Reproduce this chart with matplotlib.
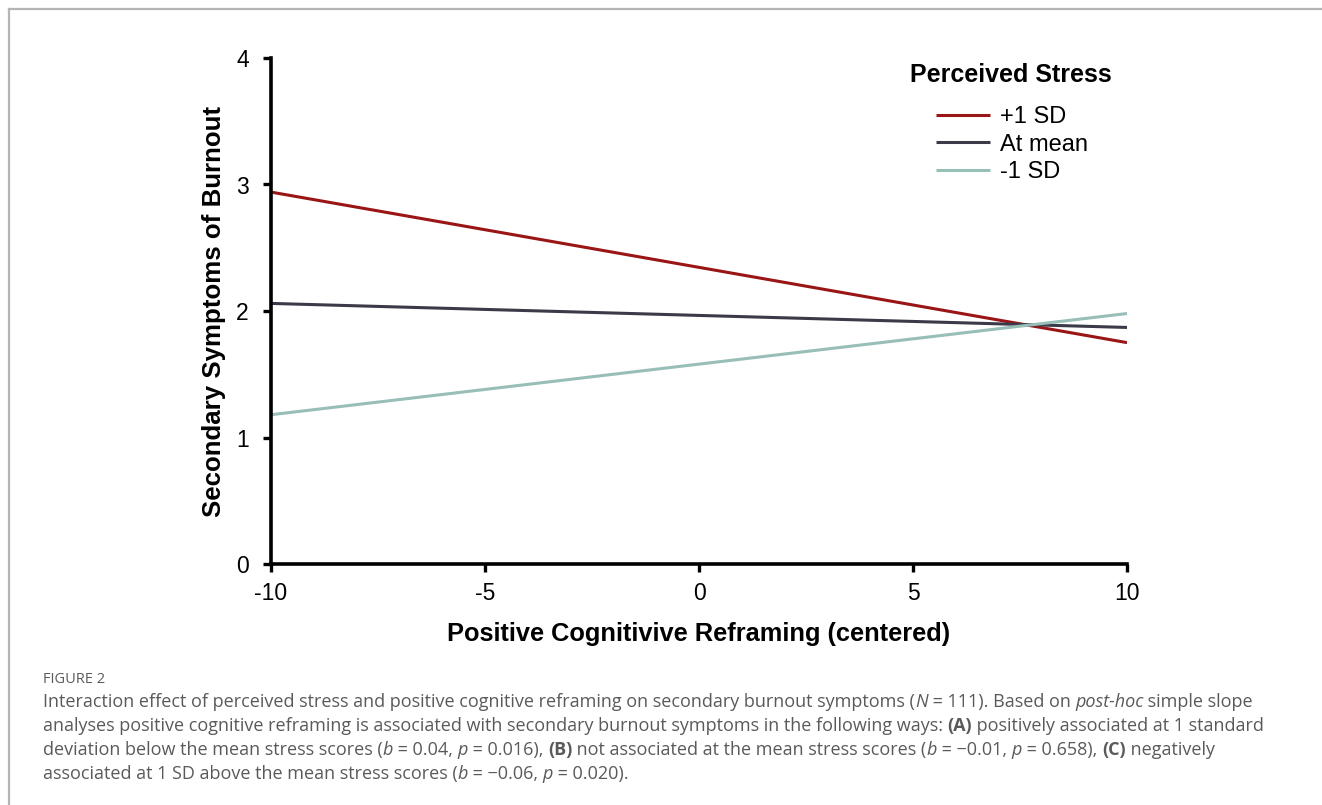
import matplotlib
matplotlib.use('Agg')
import matplotlib.pyplot as plt
from matplotlib.lines import Line2D
from matplotlib.transforms import IdentityTransform

# simple slopes at the ends of the centered predictor
x_vals = [-10, 10]
plus_sd = [2.94, 1.75]
at_mean = [2.06, 1.87]
minus_sd = [1.18, 1.98]
series_labels = ['+1 SD', 'At mean', '-1 SD']
series_colors = ['#9a1515', '#3a3a48', '#98beb8']
x_ticks = [-10, -5, 0, 5, 10]
y_ticks = [0, 1, 2, 3, 4]

W, H = 1322, 805
fig = plt.figure(figsize=(W / 100, H / 100), dpi=100)
ax = fig.add_axes([271 / W, 1 - 564 / H, (1127 - 271) / W, (564 - 58) / H])

for ys, lab, col in zip([plus_sd, at_mean, minus_sd], series_labels, series_colors):
    ax.plot(x_vals, ys, color=col, lw=2.2, label=lab, solid_capstyle='butt')

ax.set_xlim(-10, 10)
ax.set_ylim(0, 4)
ax.set_xticks(x_ticks)
ax.set_yticks(y_ticks)
ax.set_xticklabels([str(v) for v in x_ticks])

ax.spines['right'].set_visible(False)
ax.spines['top'].set_visible(False)
for s in ['left', 'bottom']:
    ax.spines[s].set_linewidth(2.6)
ax.tick_params(width=2.4, length=6, labelsize=16.5, colors='black')
ax.tick_params(axis='y', pad=10)
ax.tick_params(axis='x', pad=7)
for t in ax.get_xticklabels() + ax.get_yticklabels():
    t.set_family('Liberation Sans')

ax.set_xlabel('Positive Cognitivive Reframing (centered)', fontsize=18.3,
              fontweight='bold', family='Liberation Sans', labelpad=12)
ax.set_ylabel('Secondary Symptoms of Burnout', fontsize=18.6,
              fontweight='bold', family='Liberation Sans', labelpad=7)

# legend: title drawn separately so the gap below it can be set
fig.text(1011 / W, 1 - 75 / H, 'Perceived Stress', ha='center', va='center',
         fontsize=18, fontweight='bold', family='Liberation Sans')
leg = ax.legend(loc='upper left', bbox_to_anchor=(936 / W, 1 - 106 / H),
                bbox_transform=fig.transFigure, frameon=False,
                borderpad=0, borderaxespad=0,
                handlelength=2.3, handletextpad=0.42, labelspacing=0.24,
                prop={'family': 'Liberation Sans', 'size': 17})

# page frame
fig.add_artist(Line2D([9 / W, 9 / W], [0, 1 - 9 / H], transform=fig.transFigure,
                      color='#b5b5b5', lw=1.6))
fig.add_artist(Line2D([9 / W, 1], [1 - 9 / H, 1 - 9 / H], transform=fig.transFigure,
                      color='#b5b5b5', lw=1.6))

# caption
cap_color = '#5a5a5a'
cap_size = 12.97
renderer = fig.canvas.get_renderer()


def run_width(s, style):
    kw = dict(fontsize=cap_size, family='Open Sans')
    if style == 'i':
        kw['style'] = 'italic'
    if style == 'b':
        kw['weight'] = 'bold'
    a = fig.text(0, 0, s + '|', transform=IdentityTransform(), **kw)
    b = fig.text(0, 0, '|', transform=IdentityTransform(), **kw)
    w = a.get_window_extent(renderer).width - b.get_window_extent(renderer).width
    a.remove()
    b.remove()
    return w


def draw_line(x0, baseline_px, runs):
    x = x0
    y = H - baseline_px
    for s, style in runs:
        kw = dict(fontsize=cap_size, family='Open Sans', color=cap_color)
        if style == 'i':
            kw['style'] = 'italic'
        if style == 'b':
            kw['weight'] = 'bold'
        fig.text(x, y, s, transform=IdentityTransform(), va='baseline', ha='left', **kw)
        x += run_width(s, style)


fig.text(43, H - 683, 'FIGURE 2', transform=IdentityTransform(), va='baseline',
         ha='left', fontsize=10.5, family='Open Sans', color=cap_color)

caption_lines = [
    [('Interaction effect of perceived stress and positive cognitive reframing on secondary burnout symptoms (', 'r'),
     ('N', 'i'), (' = 111). Based on ', 'r'), ('post-hoc', 'i'), (' simple slope', 'r')],
    [('analyses positive cognitive reframing is associated with secondary burnout symptoms in the following ways: ', 'r'),
     ('(A)', 'b'), (' positively associated at 1 standard', 'r')],
    [('deviation below the mean stress scores (', 'r'), ('b', 'i'), (' = 0.04, ', 'r'), ('p', 'i'),
     (' = 0.016), ', 'r'), ('(B)', 'b'), (' not associated at the mean stress scores (', 'r'), ('b', 'i'),
     (' = \u22120.01, ', 'r'), ('p', 'i'), (' = 0.658), ', 'r'), ('(C)', 'b'), (' negatively', 'r')],
    [('associated at 1 SD above the mean stress scores (', 'r'), ('b', 'i'), (' = \u22120.06, ', 'r'),
     ('p', 'i'), (' = 0.020).', 'r')],
]
baselines = [707, 731, 755, 779]
for runs, bl in zip(caption_lines, baselines):
    draw_line(43, bl, runs)

fig.savefig('out.png', dpi=100)
